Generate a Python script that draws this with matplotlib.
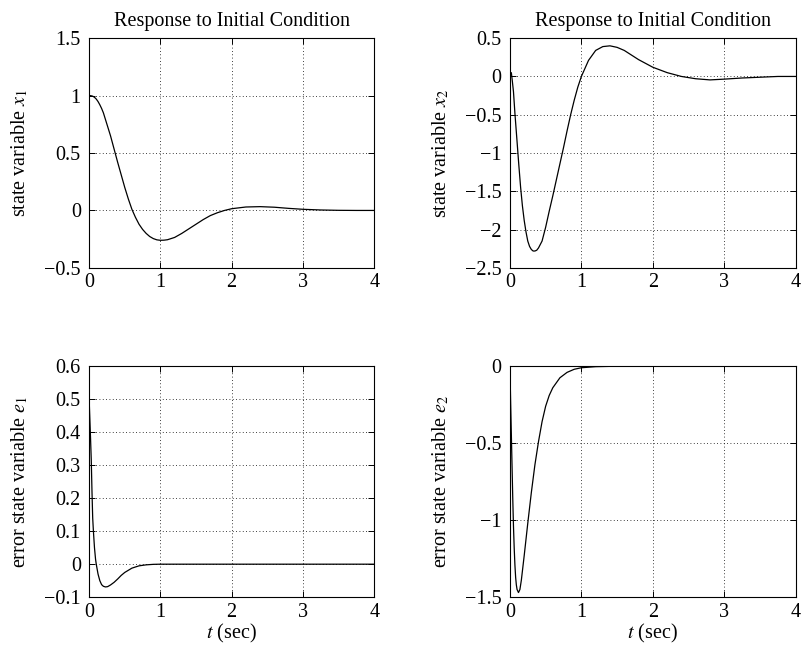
import matplotlib
matplotlib.use("Agg")
import matplotlib.pyplot as plt
from matplotlib.ticker import FuncFormatter

# values
t_x1 = [0, 0.025, 0.05, 0.075, 0.1, 0.125, 0.15, 0.175, 0.2, 0.25, 0.3, 0.35, 0.4, 0.45,
        0.5, 0.55, 0.6, 0.65, 0.7, 0.75, 0.8, 0.85, 0.9, 0.95, 1.0, 1.05, 1.1, 1.2, 1.3,
        1.4, 1.5, 1.6, 1.7, 1.8, 1.9, 2.0, 2.2, 2.4, 2.6, 2.8, 3.0, 3.25, 3.5, 3.75, 4.0]
x1 = [1.0, 0.999, 0.995, 0.985, 0.97, 0.948, 0.92, 0.888, 0.85, 0.75, 0.65, 0.535, 0.42,
      0.31, 0.20, 0.10, 0.01, -0.06, -0.12, -0.165, -0.20, -0.227, -0.245, -0.256, -0.26,
      -0.259, -0.255, -0.235, -0.20, -0.16, -0.12, -0.08, -0.045, -0.02, 0.0, 0.015,
      0.03, 0.033, 0.028, 0.018, 0.01, 0.004, 0.001, 0.0, 0.0]

t_x2 = [0, 0.02, 0.035, 0.05, 0.07, 0.1, 0.125, 0.15, 0.175, 0.2, 0.225, 0.25, 0.275,
        0.3, 0.325, 0.35, 0.375, 0.4, 0.45, 0.5, 0.55, 0.6, 0.65, 0.7, 0.75, 0.8, 0.85,
        0.9, 0.95, 1.0, 1.1, 1.2, 1.3, 1.4, 1.5, 1.6, 1.7, 1.8, 1.9, 2.0, 2.2, 2.4, 2.6,
        2.8, 3.0, 3.25, 3.5, 3.75, 4.0]
x2 = [0.03, 0.05, -0.07, -0.2, -0.48, -0.85, -1.16, -1.45, -1.69, -1.88, -2.03, -2.15,
      -2.22, -2.26, -2.28, -2.28, -2.27, -2.24, -2.15, -1.97, -1.76, -1.56, -1.35, -1.14,
      -0.93, -0.71, -0.50, -0.31, -0.14, 0.0, 0.21, 0.34, 0.39, 0.40, 0.38, 0.34, 0.28,
      0.22, 0.17, 0.12, 0.05, 0.0, -0.03, -0.045, -0.035, -0.02, -0.01, 0.0, 0.0]

t_e1 = [0, 0.01, 0.02, 0.03, 0.04, 0.05, 0.06, 0.075, 0.09, 0.1, 0.125, 0.15, 0.175,
        0.2, 0.23, 0.26, 0.3, 0.35, 0.4, 0.45, 0.5, 0.6, 0.7, 0.8, 0.9, 1.0, 2.0, 3.0, 4.0]
e1 = [0.5, 0.44, 0.38, 0.315, 0.22, 0.14, 0.10, 0.05, 0.015, 0.0, -0.03, -0.05, -0.062,
      -0.067, -0.069, -0.068, -0.063, -0.055, -0.045, -0.034, -0.025, -0.012, -0.005,
      -0.002, -0.0005, 0.0, 0.0, 0.0, 0.0]

t_e2 = [0, 0.01, 0.02, 0.03, 0.04, 0.05, 0.06, 0.07, 0.08, 0.09, 0.1, 0.12, 0.14, 0.16,
        0.18, 0.2, 0.25, 0.3, 0.35, 0.4, 0.45, 0.5, 0.55, 0.6, 0.7, 0.8, 0.9, 1.0, 1.2,
        1.5, 2.0, 3.0, 4.0]
e2 = [0.0, -0.23, -0.44, -0.65, -0.86, -1.04, -1.18, -1.29, -1.37, -1.42, -1.45, -1.47,
      -1.45, -1.39, -1.31, -1.23, -1.02, -0.82, -0.64, -0.49, -0.36, -0.26, -0.19, -0.14,
      -0.075, -0.04, -0.02, -0.01, -0.003, 0.0, 0.0, 0.0, 0.0]

x_ticks = [0, 1, 2, 3, 4]
x1_ticks = [-0.5, 0, 0.5, 1, 1.5]
x2_ticks = [-2.5, -2, -1.5, -1, -0.5, 0, 0.5]
e1_ticks = [-0.1, 0, 0.1, 0.2, 0.3, 0.4, 0.5, 0.6]
e2_ticks = [-1.5, -1, -0.5, 0]

plt.rcParams["font.family"] = ["Liberation Serif", "DejaVu Serif"]
plt.rcParams["mathtext.fontset"] = "stix"
plt.rcParams["font.size"] = 14.5

fig = plt.figure(figsize=(8.03, 6.47), dpi=100)
boxes = [[0.111, 0.586, 0.355, 0.355], [0.635, 0.586, 0.356, 0.355],
         [0.111, 0.077, 0.355, 0.357], [0.635, 0.077, 0.356, 0.357]]
panels = [
    (t_x1, x1, x1_ticks, "state variable $x_1$", "Response to Initial Condition", None),
    (t_x2, x2, x2_ticks, "state variable $x_2$", "Response to Initial Condition", None),
    (t_e1, e1, e1_ticks, "error state variable $e_1$", None, "$t$ (sec)"),
    (t_e2, e2, e2_ticks, "error state variable $e_2$", None, "$t$ (sec)"),
]

fmt = FuncFormatter(lambda v, p: ("%g" % round(v, 3)).replace("-", "\u2212"))

for box, (t, y, yt, ylab, title, xlab) in zip(boxes, panels):
    ax = fig.add_axes(box)
    ax.plot(t, y, color="black", linewidth=0.9)
    ax.set_xlim(0, 4)
    ax.set_ylim(yt[0], yt[-1])
    ax.set_xticks(x_ticks)
    ax.set_yticks(yt)
    ax.xaxis.set_major_formatter(fmt)
    ax.yaxis.set_major_formatter(fmt)
    ax.grid(True, color="black", linestyle=(0, (1, 3)), linewidth=0.6)
    ax.tick_params(direction="in", top=True, right=True, length=4, width=0.7)
    ax.tick_params(axis="y", pad=6)
    ax.tick_params(axis="x", pad=4)
    for s in ax.spines.values():
        s.set_linewidth(0.8)
    ax.set_ylabel(ylab, labelpad=10)
    if title:
        ax.set_title(title, fontsize=14.5, pad=9)
    if xlab:
        ax.set_xlabel(xlab, labelpad=0)

fig.savefig("out.png", dpi=100)
